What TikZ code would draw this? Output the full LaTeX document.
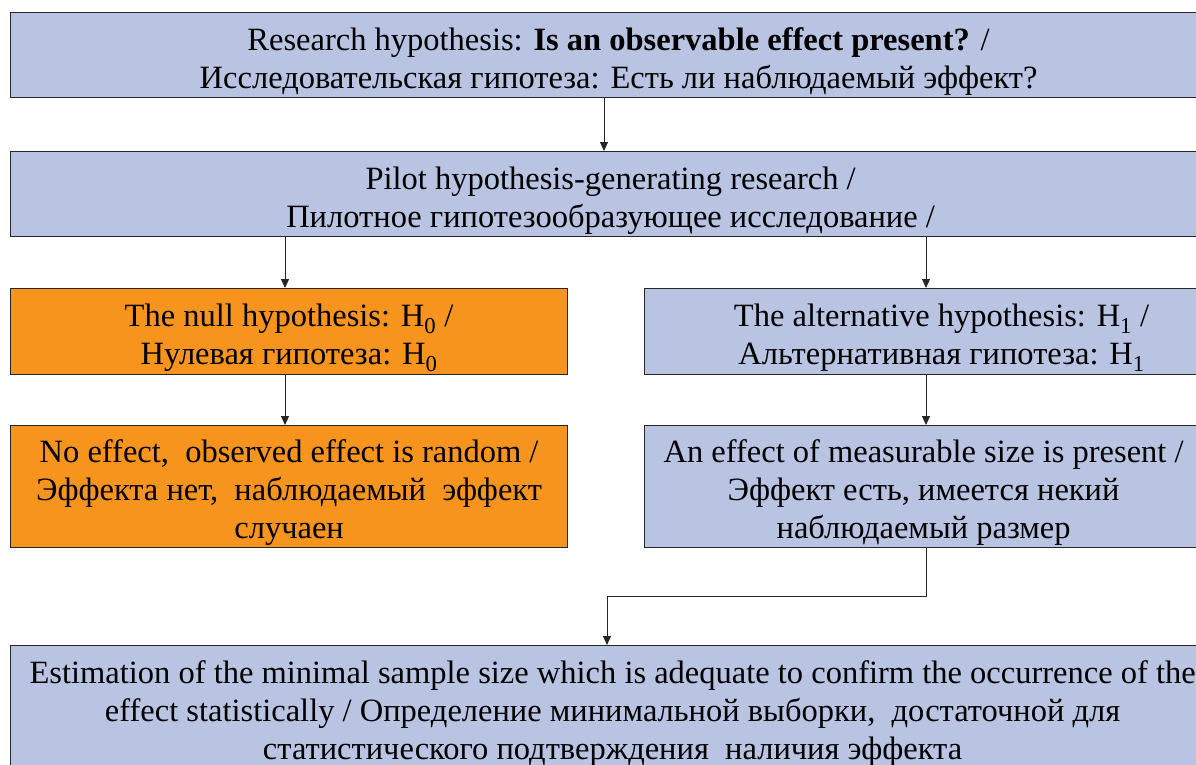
\documentclass[tikz,border=0pt]{standalone}
\usepackage{fontspec}
\setmainfont{Liberation Serif}
\usetikzlibrary{arrows.meta}
\definecolor{boxblue}{HTML}{B9C3E2}
\definecolor{boxorange}{HTML}{F7941D}
\newcommand{\boxstrut}{\rule{0pt}{35pt}}
\tikzset{
    flow-box/.style = {draw=black!85, fill=boxblue, line width=1.2pt, rectangle, align=center, inner sep=0pt, anchor=north west,
        font=\fontsize{32.5}{38}\selectfont},
    flow-box-orange/.style = {flow-box, fill=boxorange},
    flow-arrow/.style = {draw=black!85, line width=1pt, -{Triangle[length=9pt,width=8pt]}},
}

\begin{document}
\begin{tikzpicture}[x=1pt, y=-1pt]
\useasboundingbox (0,0) rectangle (1196,765);
\coordinate (mid) at (604,0);
\coordinate (left) at (285,0);
\coordinate (right) at (926,0);
\coordinate (turn) at (607,596);

\node[flow-box, minimum width=1216pt, minimum height=85pt] (research) at (10,12)
    {\boxstrut Research hypothesis: \textbf{Is an observable effect present?} /\\
     Исследовательская гипотеза: Есть ли наблюдаемый эффект?};
\node[flow-box, minimum width=1200pt, minimum height=85pt] (pilot) at (10,151)
    {\boxstrut Pilot hypothesis-generating research /\\
     Пилотное гипотезообразующее исследование /};
\node[flow-box-orange, minimum width=557pt, minimum height=86pt] (null) at (10,288)
    {\boxstrut The null hypothesis: H\textsubscript{0} /\\
     Нулевая гипотеза: H\textsubscript{0}};
\node[flow-box, minimum width=594pt, minimum height=86pt] (alt) at (644,288)
    {\boxstrut The alternative hypothesis: H\textsubscript{1} /\\
     Альтернативная гипотеза: H\textsubscript{1}};
\node[flow-box-orange, minimum width=557pt, minimum height=122pt] (noeffect) at (10,425)
    {\boxstrut No effect,\ \ observed effect is random /\\
     Эффекта нет,\ \ наблюдаемый\ \ эффект\\
     случаен};
\node[flow-box, minimum width=558pt, minimum height=122pt] (effect) at (644,425)
    {\boxstrut An effect of measurable size is present /\\
     Эффект есть, имеется некий\\
     наблюдаемый размер};
\node[flow-box, minimum width=1204pt, minimum height=124pt] (sample) at (10,645)
    {\boxstrut Estimation of the minimal sample size which is adequate to confirm the occurrence of the\\
     effect statistically / Определение минимальной выборки,\ \ достаточной для\\
     статистического подтверждения\ \ наличия эффекта};

\draw[flow-arrow] (research.south -| mid) -- (pilot.north -| mid);
\draw[flow-arrow] (pilot.south -| left) -- (null.north -| left);
\draw[flow-arrow] (pilot.south -| right) -- (alt.north -| right);
\draw[flow-arrow] (null.south -| left) -- (noeffect.north -| left);
\draw[flow-arrow] (alt.south -| right) -- (effect.north -| right);
\draw[flow-arrow] (effect.south -| right) |- (turn) -- (sample.north -| turn);
\end{tikzpicture}
\end{document}
